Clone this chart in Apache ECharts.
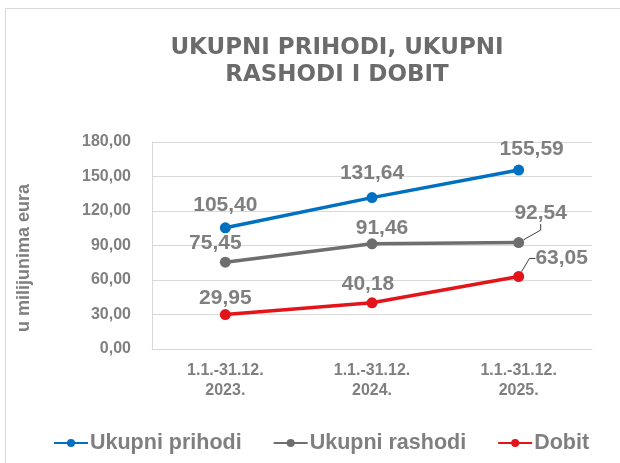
<!DOCTYPE html>
<html>
<head>
<meta charset="utf-8">
<script src="https://cdn.jsdelivr.net/npm/echarts@6/dist/echarts.min.js"></script>
<style>
  html, body { margin: 0; padding: 0; background: #fff; }
  #chart { width: 620px; height: 463px; }
</style>
</head>
<body>
<div id="chart"></div>
<script>
const categories = ['1.1.-31.12.\n2023.', '1.1.-31.12.\n2024.', '1.1.-31.12.\n2025.']
const prihodi = [105.40, 131.64, 155.59]
const rashodi = [75.45, 91.46, 92.54]
const dobit = [29.95, 40.18, 63.05]
const yTicks = [0, 30, 60, 90, 120, 150, 180]

// label nudges [dx, dy] as placed by hand in the original chart
const prihodiShift = [[0, -2], [0, -3], [13, 0]]
const rashodiShift = [[-10, 2], [10, 5], [22, -8]]
const dobitShift = [[0, 5], [-4, 2], [43, 3]]

const grey = '#7f7f7f'
const font = 'Liberation Sans, Arial'
const fmt = v => v.toFixed(2).replace('.', ',')

const chart = echarts.init(document.getElementById('chart'))

function lineSeries(name, values, color, shift, leaderOnLast) {
  const data = values.map((v, i) => {
    if (leaderOnLast && i === values.length - 1) {
      return { value: v, labelLine: { show: true } }
    }
    return { value: v }
  })
  return {
    name: name,
    type: 'line',
    data: data,
    symbol: 'circle',
    symbolSize: 11,
    lineStyle: { width: 3.5, color: color },
    itemStyle: { color: color },
    label: {
      show: true,
      position: 'top',
      distance: 5,
      color: grey,
      fontSize: 21,
      fontWeight: 'bold',
      fontFamily: font,
      formatter: p => fmt(p.value)
    },
    labelLine: {
      show: false,
      smooth: false,
      length2: 6,
      lineStyle: { color: '#404040', width: 1 }
    },
    labelLayout: p => ({ dx: shift[p.dataIndex][0], dy: shift[p.dataIndex][1] }),
    z: 3
  }
}

const option = {
  animation: false,
  title: {
    text: 'UKUPNI PRIHODI, UKUPNI\nRASHODI I DOBIT',
    left: 332,
    textAlign: 'center',
    top: 30,
    textStyle: {
      color: '#6b6b6b',
      fontSize: 23,
      fontWeight: 'bold',
      fontFamily: 'DejaVu Sans',
      lineHeight: 27
    }
  },
  legend: {
    top: 427,
    left: 48,
    itemWidth: 34,
    itemHeight: 10,
    itemGap: 31,
    textStyle: {
      color: grey,
      fontSize: 21.5,
      fontWeight: 'bold',
      fontFamily: font,
      padding: [0, 0, 0, -3]
    },
    data: ['Ukupni prihodi', 'Ukupni rashodi', 'Dobit']
  },
  grid: {
    left: 152,
    right: 28,
    top: 142,
    bottom: 114
  },
  xAxis: {
    type: 'category',
    data: categories,
    axisLine: { lineStyle: { color: '#d9d9d9', width: 1 } },
    axisTick: { show: false },
    axisLabel: {
      color: grey,
      fontSize: 16,
      fontWeight: 'bold',
      fontFamily: font,
      lineHeight: 20,
      margin: 12
    }
  },
  yAxis: {
    type: 'value',
    min: yTicks[0],
    max: yTicks[yTicks.length - 1],
    interval: 30,
    name: 'u milijunima eura',
    nameLocation: 'middle',
    nameGap: 119,
    nameRotate: 90,
    nameTextStyle: {
      color: grey,
      fontSize: 18,
      fontWeight: 'bold',
      fontFamily: font,
      padding: [0, 25, 0, 0]
    },
    axisLine: { show: true, lineStyle: { color: '#d9d9d9' } },
    axisTick: { show: false },
    splitLine: { lineStyle: { color: '#d9d9d9' } },
    axisLabel: {
      color: grey,
      fontSize: 16,
      fontWeight: 'bold',
      fontFamily: font,
      margin: 21,
      formatter: v => fmt(v)
    }
  },
  series: [
    lineSeries('Ukupni prihodi', prihodi, '#0070c0', prihodiShift, false),
    lineSeries('Ukupni rashodi', rashodi, '#6e6e6e', rashodiShift, true),
    lineSeries('Dobit', dobit, '#e3151b', dobitShift, true)
  ],
  graphic: [{
    type: 'rect',
    shape: { x: 5.5, y: 8.5, width: 640, height: 500 },
    style: { fill: 'none', stroke: '#d9d9d9', lineWidth: 1 },
    silent: true
  }]
}

chart.setOption(option)
</script>
</body>
</html>
